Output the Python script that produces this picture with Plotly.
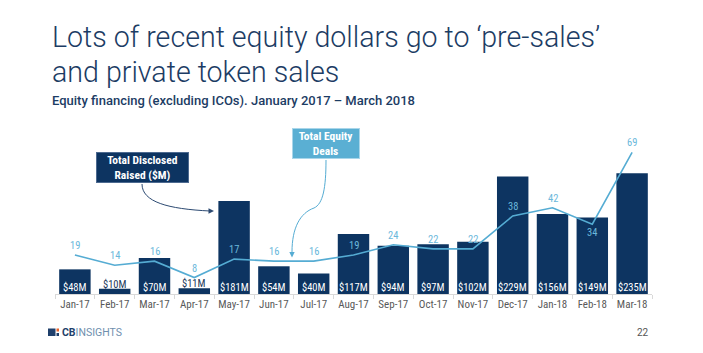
import plotly.graph_objects as go

months = ["Jan-17", "Feb-17", "Mar-17", "Apr-17", "May-17", "Jun-17", "Jul-17", "Aug-17",
          "Sep-17", "Oct-17", "Nov-17", "Dec-17", "Jan-18", "Feb-18", "Mar-18"]
raised_m = [48, 10, 70, 11, 181, 54, 40, 117, 94, 97, 102, 229, 156, 149, 235]
deals = [19, 14, 16, 8, 17, 16, 16, 19, 24, 22, 22, 38, 42, 34, 69]

NAVY = "#0d3461"
TITLE = "#1c3c64"
LINE = "#55acd3"
LLAB = "#6bb8db"
COND = "Liberation Sans Narrow, Roboto Condensed, Roboto, sans-serif"

W, H = 703, 353
L, R, T, B = 55, 51, 140, 59
PW, PH = W - L - R, H - T - B


def px(x):
    return (x - L) / PW


def py(y):
    return (H - B - y) / PH


fig = go.Figure()
fig.add_trace(go.Bar(
    x=months, y=raised_m, marker=dict(color=NAVY, line=dict(width=0)), width=0.79,
    hoverinfo="skip",
))
fig.add_trace(go.Scatter(
    x=months, y=deals, yaxis="y2", mode="lines",
    line=dict(color=LINE, width=1.6), hoverinfo="skip",
))


def path(points_cmd):
    out = []
    for tok in points_cmd:
        if isinstance(tok, str):
            out.append(tok)
        else:
            out.append(f"{px(tok[0]):.5f},{py(tok[1]):.5f}")
    return " ".join(out)


shapes = [
    dict(type="path", xref="paper", yref="paper",
         path=path(["M", (142, 184), "C", (142, 202), (168, 209), (210, 211)]),
         line=dict(color="#2c4a72", width=1)),
    dict(type="path", xref="paper", yref="paper",
         path=path(["M", (214, 211), "L", (208.5, 208.3), "L", (208.5, 213.7), "Z"]),
         fillcolor="#2c4a72", line=dict(width=0)),
    dict(type="path", xref="paper", yref="paper",
         path=path(["M", (326, 160), "C", (326, 188), (323, 204), (314, 208),
                    "C", (300, 213), (292, 228), (292, 252)]),
         line=dict(color=LINE, width=1)),
    dict(type="path", xref="paper", yref="paper",
         path=path(["M", (292, 257.5), "L", (289.3, 252), "L", (294.7, 252), "Z"]),
         fillcolor=LINE, line=dict(width=0)),
    dict(type="rect", xref="paper", yref="paper", x0=px(48), x1=px(55.5), y0=py(336), y1=py(328.5),
         fillcolor="#1f3f6b", line=dict(width=0)),
    dict(type="rect", xref="paper", yref="paper", x0=px(56.5), x1=px(59), y0=py(331.5), y1=py(328.5),
         fillcolor="#e8632b", line=dict(width=0)),
    dict(type="rect", xref="paper", yref="paper", x0=px(56.5), x1=px(59), y0=py(336), y1=py(333),
         fillcolor="#1f3f6b", line=dict(width=0)),
]

annotations = []
# bar value labels (inside at the base, or just above small bars)
for m, v in zip(months, raised_m):
    small = v < 20
    annotations.append(dict(
        x=m, y=v if small else 0, xref="x", yref="y", text=f"${v}M", showarrow=False,
        xanchor="center", yanchor="middle", yshift=4.7 if small else 6.8,
        font=dict(family=COND, size=10.5, color="#22385a" if small else "white")))
# deal count labels
for i, (m, d) in enumerate(zip(months, deals)):
    below = (i == 13)
    annotations.append(dict(
        x=m, y=d, xref="x", yref="y2", text=str(d), showarrow=False,
        xanchor="center", yanchor="middle", yshift=-8 if below else 9.5,
        font=dict(family=COND, size=10.5, color=LLAB)))

annotations += [
    dict(xref="paper", yref="paper", x=px(50), y=py(36.5), xanchor="left", yanchor="middle",
         text="Lots of recent equity dollars go to ‘pre-sales’", showarrow=False,
         font=dict(family="Roboto", size=28.6, color=TITLE, weight=300)),
    dict(xref="paper", yref="paper", x=px(50), y=py(71.5), xanchor="left", yanchor="middle",
         text="and private token sales", showarrow=False,
         font=dict(family="Roboto", size=28.6, color=TITLE, weight=300)),
    dict(xref="paper", yref="paper", x=px(50), y=py(100.5), xanchor="left", yanchor="middle",
         text="Equity financing (excluding ICOs). January 2017 – March 2018", showarrow=False,
         font=dict(family="Roboto", size=13, color=TITLE, weight=500)),
    dict(xref="paper", yref="paper", x=px(142.4), y=py(167.8), xanchor="center", yanchor="middle",
         text="<b>Total Disclosed<br>Raised ($M)</b>", showarrow=False, align="center",
         width=89, height=27, bgcolor=NAVY, bordercolor="#4d6a90", borderwidth=1, borderpad=1,
         font=dict(family=COND, size=11.5, color="white")),
    dict(xref="paper", yref="paper", x=px(326.2), y=py(143.8), xanchor="center", yanchor="middle",
         text="<b>Total Equity<br>Deals</b>", showarrow=False, align="center",
         width=64, height=27, bgcolor="#5aafd3", bordercolor="#a9d6ea", borderwidth=1, borderpad=1,
         font=dict(family=COND, size=11.5, color="white")),
    dict(xref="paper", yref="paper", x=px(60), y=py(332), xanchor="left", yanchor="middle",
         text="<b>CB</b><span style='color:#6f8fae'>INSIGHTS</span>", showarrow=False,
         font=dict(family="Roboto", size=10.5, color="#1f3f6b")),
    dict(xref="paper", yref="paper", x=px(651), y=py(332), xanchor="right", yanchor="middle",
         text="22", showarrow=False, font=dict(family="Roboto", size=10, color="#555555")),
]

fig.update_layout(
    width=W, height=H, margin=dict(l=L, r=R, t=T, b=B),
    paper_bgcolor="white", plot_bgcolor="white", showlegend=False, bargap=0.21,
    xaxis=dict(type="category", range=[-0.5, 14.5], showgrid=False, zeroline=False,
               showline=True, linecolor="#d9d9d9", linewidth=1, tickangle=0,
               ticks="outside", tickson="boundaries", ticklen=4, tickcolor="#d9d9d9",
               tickfont=dict(family=COND, size=11, color="#595959")),
    yaxis=dict(range=[0, 300], visible=False, fixedrange=True),
    yaxis2=dict(range=[0, 75], visible=False, overlaying="y", side="right"),
    shapes=shapes, annotations=annotations,
)

fig.write_html("out.html")
